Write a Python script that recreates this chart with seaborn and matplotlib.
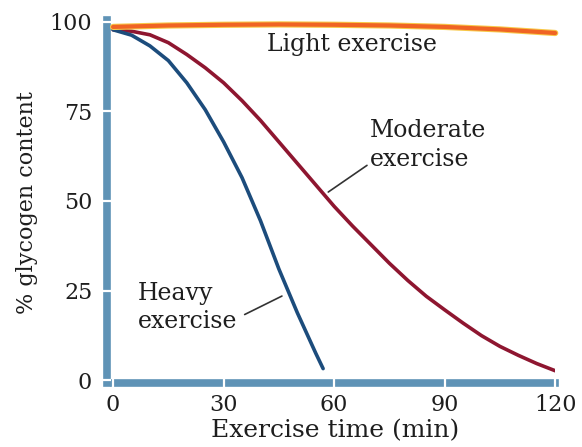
import numpy as np
import pandas as pd
import matplotlib.pyplot as plt
import matplotlib.patheffects as pe
import seaborn as sns

# -------- data --------
light_time = [0, 15, 30, 45, 60, 75, 90, 105, 120]
light_pct = [98.6, 99.0, 99.2, 99.3, 99.2, 99.0, 98.6, 97.9, 96.9]

moderate_time = [0, 5, 10, 15, 20, 25, 30, 35, 40, 45, 50, 55, 60,
                 65, 70, 75, 80, 85, 90, 95, 100, 105, 110, 115, 120]
moderate_pct = [97.8, 97.4, 96.4, 94.2, 90.9, 87.2, 83.0, 78.0, 72.5, 66.5,
                60.5, 54.5, 48.5, 43.0, 37.8, 32.6, 27.8, 23.4, 19.6, 15.9,
                12.4, 9.4, 6.9, 4.6, 2.6]

heavy_time = [0, 5, 10, 15, 20, 25, 30, 35, 40, 45, 50, 55, 57]
heavy_pct = [97.8, 96.3, 93.3, 89.2, 83.0, 75.5, 66.5, 56.5, 44.5, 31.0,
             18.8, 7.5, 3.2]

x_ticks = [0, 30, 60, 90, 120]
y_ticks = [0, 25, 50, 75, 100]

# -------- style --------
sns.set_style("white")
plt.rcParams["font.family"] = ["DejaVu Serif"]
axis_blue = "#5f93b6"
text_col = "#1e1e1e"

fig = plt.figure(figsize=(5.82, 4.47), dpi=100)
ax = fig.add_axes([0.184, 0.143, 0.77, 0.808])

light = pd.DataFrame({"t": light_time, "v": light_pct})
moderate = pd.DataFrame({"t": moderate_time, "v": moderate_pct})
heavy = pd.DataFrame({"t": heavy_time, "v": heavy_pct})

sns.lineplot(data=light, x="t", y="v", ax=ax, color="#f06424", linewidth=3.0,
             zorder=4, clip_on=False,
             path_effects=[pe.Stroke(linewidth=4.5, foreground="#f8c848"), pe.Normal()])
sns.lineplot(data=moderate, x="t", y="v", ax=ax, color="#8e1630", linewidth=2.6, zorder=3)
sns.lineplot(data=heavy, x="t", y="v", ax=ax, color="#1c4c7c", linewidth=2.6, zorder=3)

ax.set_xlim(-1.63, 120)
ax.set_ylim(-0.84, 100)

# -------- thick blue axis bars with white gaps at the ticks --------
for side in ["top", "right"]:
    ax.spines[side].set_visible(False)
for side in ["left", "bottom"]:
    ax.spines[side].set_color(axis_blue)
    ax.spines[side].set_linewidth(5.5)
    ax.spines[side].set_zorder(1)
ax.spines["bottom"].set_bounds(0.3, 120)
ax.spines["left"].set_bounds(-0.84, 100.5)
ax.set_axisbelow(False)

ax.set_xticks(x_ticks)
ax.set_yticks(y_ticks)
ax.tick_params(axis="both", bottom=True, left=True, direction="inout",
               length=5.4, width=1.6, color="white",
               labelsize=16, labelcolor=text_col)
ax.tick_params(axis="x", pad=5)
ax.tick_params(axis="y", pad=8)

ax.set_xlabel("Exercise time (min)", fontsize=18, color=text_col)
ax.set_ylabel("% glycogen content", fontsize=16, color=text_col)
ax.xaxis.set_label_coords(0.509, -0.1)
ax.yaxis.set_label_coords(-0.155, 0.5)

# -------- curve labels --------
ax.text(64.9, 93.6, "Light exercise", fontsize=17, color=text_col,
        ha="center", va="center")
ax.annotate("Moderate\nexercise", xy=(58.4, 52.5), xytext=(69.8, 65.6),
            fontsize=17, color=text_col, ha="left", va="center", linespacing=1.3,
            arrowprops=dict(arrowstyle="-", color="#333333", lw=1.2,
                            shrinkA=0, shrinkB=0, relpos=(0.0, 0.15)))
ax.annotate("Heavy\nexercise", xy=(46.5, 23.8), xytext=(6.8, 20.2),
            fontsize=17, color=text_col, ha="left", va="center", linespacing=1.3,
            arrowprops=dict(arrowstyle="-", color="#333333", lw=1.2,
                            shrinkA=3, shrinkB=2, relpos=(1.0, 0.3)))

plt.savefig("out.png", dpi=100)
plt.close(fig)
